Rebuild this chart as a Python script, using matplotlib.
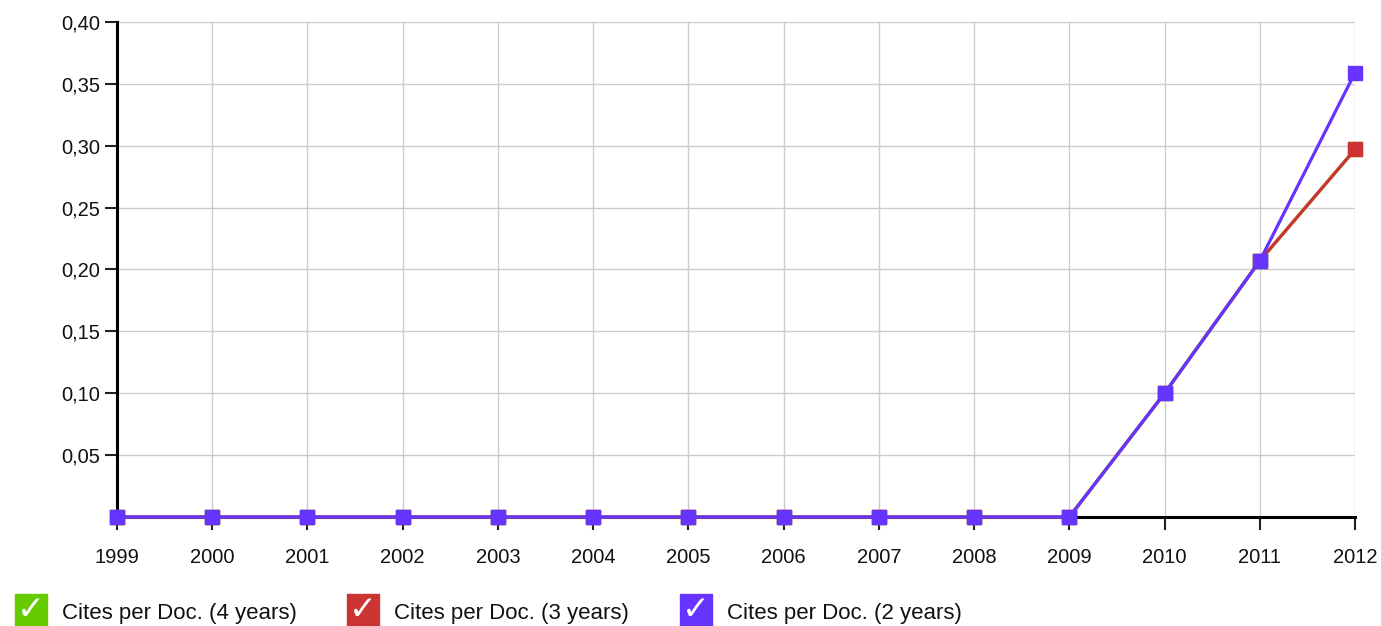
import matplotlib
matplotlib.use("Agg")
import matplotlib.pyplot as plt
from matplotlib.patches import Rectangle
from matplotlib.ticker import FuncFormatter

years = list(range(1999, 2013))
cites_4y = [0, 0, 0, 0, 0, 0, 0, 0, 0, 0, 0, 0.10, 0.207, 0.297]
cites_3y = [0, 0, 0, 0, 0, 0, 0, 0, 0, 0, 0, 0.10, 0.207, 0.297]
cites_2y = [0, 0, 0, 0, 0, 0, 0, 0, 0, 0, 0, 0.10, 0.207, 0.359]

series = [
    ("Cites per Doc. (4 years)", cites_4y, "#66cc00"),
    ("Cites per Doc. (3 years)", cites_3y, "#cc3333"),
    ("Cites per Doc. (2 years)", cites_2y, "#6633ff"),
]
y_ticks = [0.05, 0.10, 0.15, 0.20, 0.25, 0.30, 0.35, 0.40]

plt.rcParams["font.family"] = ["Liberation Sans", "DejaVu Sans"]

fig = plt.figure(figsize=(13.81, 6.26), dpi=100)
ax = fig.add_axes([0.0847, 0.1741, 0.8965, 0.7908])

for name, vals, col in series:
    ax.plot(years, vals, color=col, linewidth=2.3, marker="s",
            markersize=9.5, clip_on=False, zorder=3)

ax.set_xlim(1999, 2012)
ax.set_ylim(0, 0.40)
ax.set_xticks(years)
ax.set_yticks(y_ticks)
ax.yaxis.set_major_formatter(FuncFormatter(lambda v, p: f"{v:.2f}".replace(".", ",")))
ax.grid(True, color="#cccccc", linewidth=1.0)
ax.set_axisbelow(True)

for s in ["top", "right"]:
    ax.spines[s].set_visible(False)
ax.spines["left"].set_linewidth(2.2)
ax.spines["bottom"].set_linewidth(2.2)
ax.tick_params(axis="both", direction="out", length=9, width=1.5,
               color="#222222", labelsize=14.5, labelcolor="#111111")
ax.tick_params(axis="x", pad=13)
ax.tick_params(axis="y", pad=3)

# legend: coloured check boxes along the bottom
W, H = fig.get_size_inches() * fig.dpi
box_x = [15, 347, 680]
for (name, vals, col), bx in zip(series, box_x):
    fig.patches.append(Rectangle((bx / W, 1 - 628 / H), 32 / W, 34 / H,
                                 transform=fig.transFigure, color=col))
    fig.text((bx + 16) / W, 1 - 610 / H, "\u2713", color="white",
             fontsize=24, ha="center", va="center", family="DejaVu Sans")
    fig.text((bx + 47) / W, 1 - 613 / H, name, fontsize=16,
             color="#111111", ha="left", va="center")

fig.savefig("out.png", dpi=100)
